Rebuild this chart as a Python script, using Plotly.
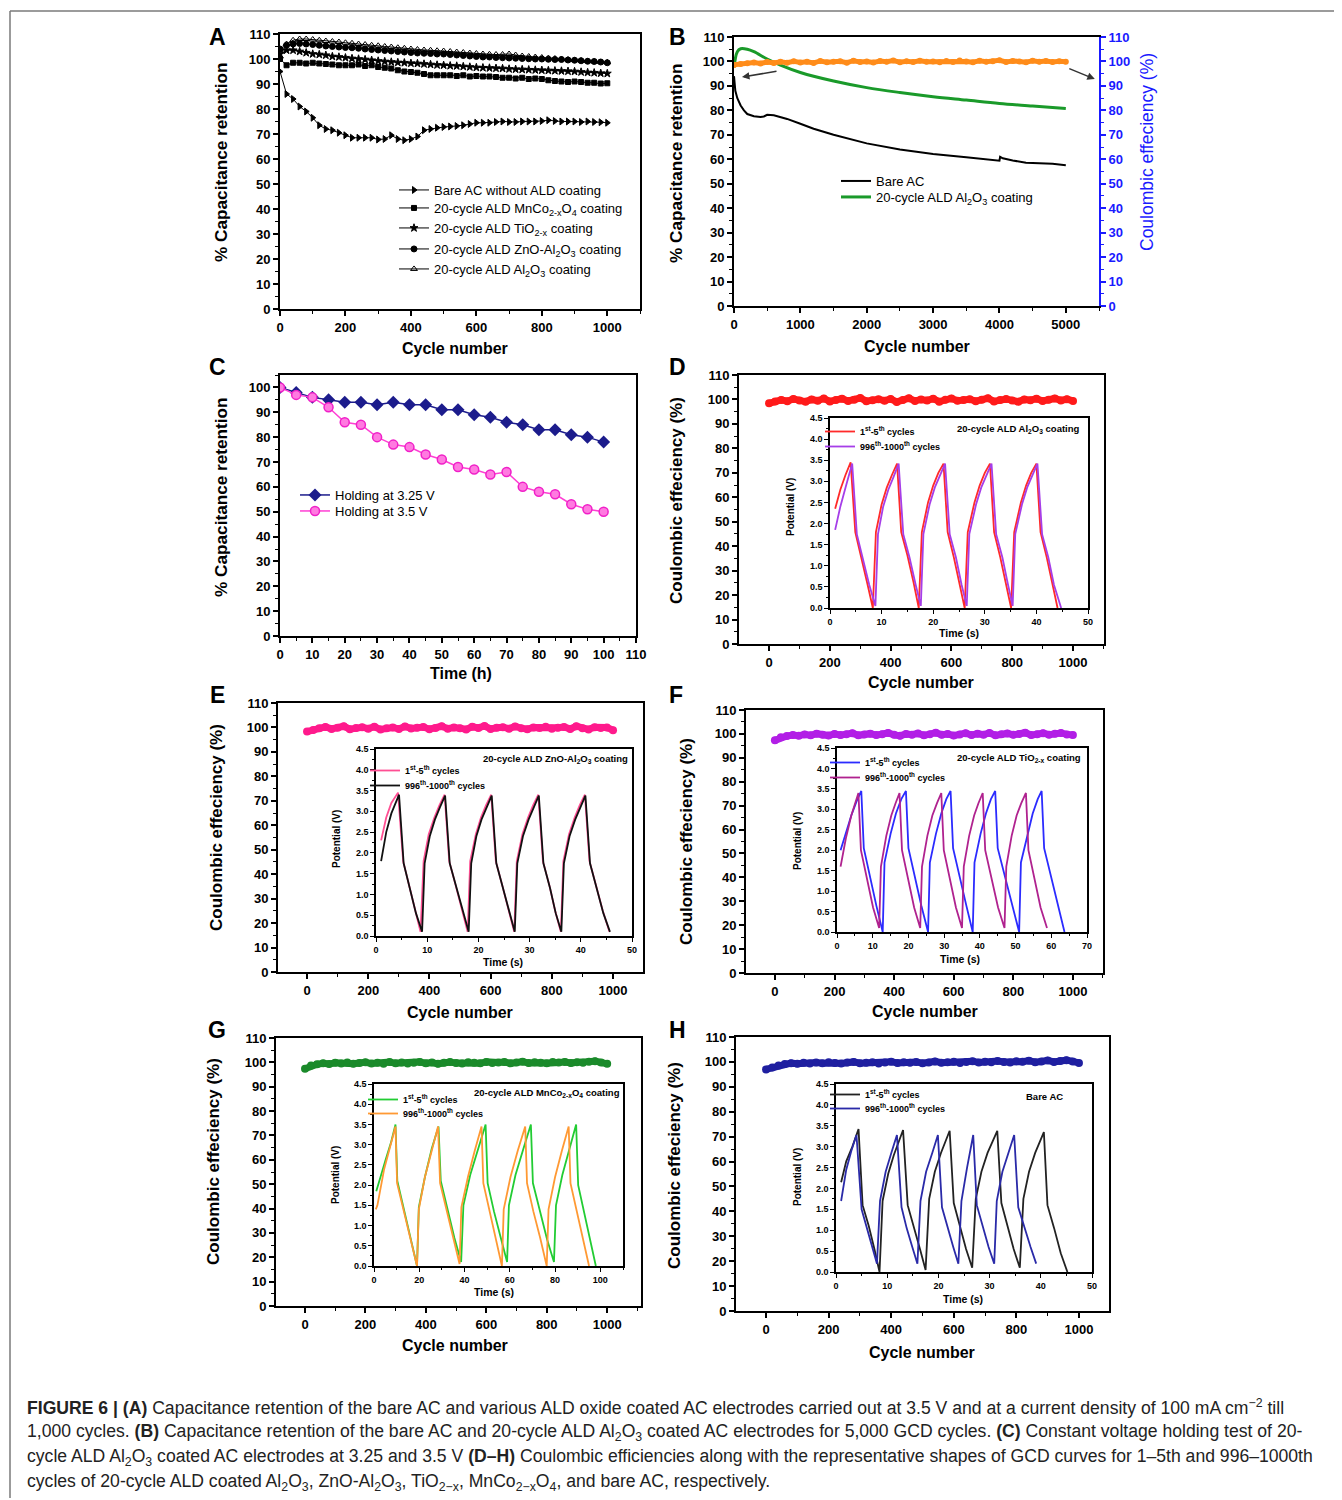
import plotly.graph_objects as go

# ---------------- DATA ----------------
# Panel A: capacitance retention (%), cycles 0..1000 step 20
cyc_A = list(range(0, 1001, 20))
a_bare = [95, 86, 84, 81, 79, 76.5, 73.5, 72, 71.5, 70.5, 69.5, 68.5, 68.5, 68.5, 68.5, 67.8, 68, 69.5, 68, 67.5,
          68, 69, 71.5, 72, 72.5, 72.8, 73, 73.2, 73.5, 74, 74.5, 74.5, 74.5, 74.8, 75, 74.8, 74.8, 75, 75, 75,
          75.2, 75.5, 75.2, 75, 75, 75, 74.8, 75, 74.8, 74.7, 74.5]
a_mnco = [100, 97.5, 98.5, 98.5, 98.2, 98.5, 98.2, 98, 97.8, 97.5, 97.5, 97.5, 97.8, 97.2, 97.5, 96.8, 96.5, 96.2, 95.5, 95,
          94.8, 94.5, 94, 93.5, 93.5, 93.5, 93.5, 93.2, 93.5, 93, 93.2, 93, 93, 92.8, 92.5, 92.5, 92.2, 92.5, 92, 92.2,
          92, 91.5, 91.2, 91, 90.8, 91, 90.8, 90.5, 90.5, 90.2, 90.3]
a_tio2 = [102, 103.5, 103.5, 103, 102.5, 102, 101.8, 101.5, 101, 100.8, 100.5, 100.2, 100, 99.8, 99.5, 99.2, 99, 98.8, 98.6, 98.5,
          98.3, 98.2, 98, 97.8, 97.6, 97.5, 97.3, 97.2, 97, 96.8, 96.6, 96.5, 96.4, 96.3, 96.2, 96, 95.9, 95.8, 95.7, 95.6,
          95.5, 95.4, 95.3, 95.2, 95.1, 95, 94.8, 94.6, 94.5, 94.3, 94.2]
a_zno = [104, 105.5, 106, 106.2, 106, 105.8, 105.5, 105.2, 105, 104.8, 104.6, 104.5, 104.3, 104, 103.8, 103.6, 103.4, 103.2, 103, 102.8,
         102.6, 102.4, 102.3, 102.2, 102, 102, 101.8, 101.6, 101.4, 101.2, 101, 100.8, 100.8, 100.6, 100.5, 100.4, 100.3, 100.2, 100.1, 100,
         100, 99.9, 99.8, 99.8, 99.6, 99.5, 99.3, 99.1, 99, 98.8, 98.5]
a_al2o3 = [101, 106, 107.5, 108, 108, 107.8, 107.5, 107.2, 107, 106.8, 106.5, 106.3, 106, 105.8, 105.5, 105.3, 105, 104.8, 104.5, 104.3,
           104, 103.8, 103.6, 103.5, 103.3, 103.2, 103, 102.8, 102.6, 102.4, 102.2, 102, 101.9, 101.8, 101.8, 102, 101.6, 101.2, 101, 100.8,
           100.6, 100.4, 100.2, 100, 99.8, 99.6, 99.4, 99.2, 99, 98.8, 98.7]

# Panel B
b_bare_x = [0, 20, 50, 100, 150, 200, 300, 400, 450, 500, 600, 800, 1000, 1200, 1500, 1800, 2000, 2500, 3000, 3500,
            4000, 4010, 4050, 4200, 4400, 4500, 4800, 5000]
b_bare_y = [94, 88, 85, 82, 80, 78.5, 77.6, 77.3, 77.5, 78.2, 78, 76.5, 74.5, 72.5, 70, 67.8, 66.5, 64, 62.2, 60.8,
            59.4, 61, 60.4, 59.5, 58.6, 58.5, 58.2, 57.6]
b_al_x = [0, 50, 100, 200, 300, 500, 700, 1000, 1500, 2000, 2500, 3000, 3500, 4000, 4500, 5000]
b_al_y = [97.5, 104, 105.2, 105, 104, 101, 98.5, 95.5, 92, 89.3, 87.3, 85.6, 84.2, 82.8, 81.8, 80.8]
cyc_B = list(range(0, 5001, 100))
b_ce = [98.6, 99.0, 99.3, 99.6, 99.2, 99.8, 99.4, 99.9, 99.5, 100.1, 99.6, 99.9, 99.4, 100.2, 99.7, 99.9, 100.1, 99.5, 100.3, 99.8,
        100.0, 99.6, 100.2, 99.9, 100.4, 99.7, 100.1, 99.8, 100.3, 99.9, 100.0, 99.7, 100.2, 99.8, 100.4, 100.0, 99.7, 100.3, 99.9, 100.1,
        100.5, 99.8, 100.2, 100.0, 99.7, 100.3, 99.9, 100.2, 99.8, 100.1, 99.9]

# Panel C
time_C = list(range(0, 101, 5))
c_325 = [100, 98, 96, 95, 94, 94, 93, 94, 93, 93, 91, 91, 89, 88, 86, 85, 83, 83, 81, 80, 78]
c_35 = [100, 97, 96, 92, 86, 85, 80, 77, 76, 73, 71, 68, 67, 65, 66, 60, 58, 57, 53, 51, 50]

# Panels D-H: Coulombic efficiency, cycles 0..1000 step 20
cyc_CE = list(range(0, 1001, 20))
ce_D = [98.4, 99.2, 99.8, 99.3, 100.2, 99.6, 99.1, 100.0, 99.5, 100.4, 99.2, 99.8, 100.3, 99.4, 99.9, 100.6, 99.3, 99.7, 100.1, 99.5,
        100.2, 99.0, 99.8, 100.5, 99.4, 100.0, 99.6, 100.3, 99.1, 99.9, 100.4, 99.5, 99.8, 100.1, 99.3, 99.9, 100.5, 99.2, 99.8, 100.2,
        99.6, 99.1, 100.0, 99.7, 100.3, 99.4, 99.9, 100.4, 99.6, 100.1, 99.4]
ce_E = [98.3, 99.0, 99.7, 100.2, 99.4, 99.9, 100.5, 99.3, 99.8, 100.1, 99.5, 100.3, 99.2, 99.7, 100.0, 99.4, 100.4, 99.6, 99.9, 100.2,
        99.3, 99.8, 100.5, 99.5, 100.0, 99.7, 99.2, 100.3, 99.8, 100.6, 99.4, 99.9, 100.1, 99.5, 100.4, 99.7, 99.3, 100.0, 99.8, 100.3,
        99.5, 99.9, 100.2, 99.4, 100.5, 99.7, 99.2, 100.1, 99.8, 100.0, 98.9]
ce_F = [97.3, 98.6, 99.1, 99.5, 99.2, 99.8, 99.4, 100.1, 99.6, 99.3, 100.0, 99.5, 99.9, 100.3, 99.4, 99.8, 100.1, 99.5, 99.9, 100.4,
        99.6, 99.2, 100.0, 99.7, 100.2, 99.4, 99.9, 100.5, 99.6, 100.0, 99.3, 99.8, 100.3, 99.5, 100.1, 99.7, 100.4, 99.4, 99.9, 100.2,
        99.6, 100.0, 100.5, 99.5, 99.9, 100.3, 99.7, 100.1, 100.4, 99.8, 99.5]
ce_G = [97.4, 98.7, 99.2, 99.6, 99.3, 99.8, 99.5, 99.9, 99.4, 99.7, 100.0, 99.5, 99.8, 99.4, 100.1, 99.6, 99.9, 99.5, 99.8, 100.2,
        99.6, 99.9, 99.4, 99.8, 100.1, 99.7, 99.5, 100.0, 99.8, 99.6, 100.2, 99.7, 99.9, 100.1, 99.6, 99.9, 100.3, 99.7, 100.0, 99.8,
        99.6, 100.1, 99.9, 100.2, 99.7, 100.0, 99.8, 100.3, 100.5, 99.9, 99.4]
ce_H = [97.0, 97.8, 98.6, 99.2, 99.5, 99.3, 99.7, 99.4, 99.8, 99.5, 99.9, 99.6, 99.4, 99.8, 100.0, 99.5, 99.7, 99.9, 99.4, 99.8,
        100.1, 99.6, 99.9, 99.7, 100.0, 99.5, 99.8, 100.2, 99.7, 99.9, 100.1, 99.6, 100.0, 100.3, 99.8, 100.1, 99.9, 100.4, 100.0, 99.8,
        100.3, 100.1, 100.5, 99.9, 100.2, 100.6, 100.0, 100.4, 100.7, 100.2, 99.6]

# GCD curves (time s, potential V)
d1_t = [1.0, 2.0, 3.0, 4.0, 4.9, 6.0, 7.2, 8.3, 8.9, 10.0, 11.0, 12.0, 13.0, 13.8, 15.0, 16.2, 17.2, 17.8, 19.0, 20.0, 21.0, 22.0,
        22.8, 24.0, 25.1, 26.1, 26.7, 28.0, 29.0, 30.0, 31.0, 31.8, 33.0, 34.1, 35.1, 35.7, 37.0, 38.0, 39.0, 40.0, 40.8, 42.0, 43.0, 44.1]
d1_v = [2.35, 2.8, 3.15, 3.45, 1.8, 1.25, 0.6, 0.0, 1.8, 2.45, 2.85, 3.15, 3.42, 1.8, 1.25, 0.6, 0.0, 1.8, 2.5, 2.9, 3.2, 3.42,
        1.8, 1.2, 0.55, 0.0, 1.8, 2.5, 2.9, 3.2, 3.42, 1.8, 1.2, 0.55, 0.0, 1.8, 2.5, 2.9, 3.2, 3.42, 1.8, 1.2, 0.6, 0.0]
d2_t = [1.0, 2.0, 3.0, 4.3, 5.2, 6.3, 7.6, 8.8, 9.3, 10.3, 11.3, 12.3, 13.3, 14.2, 15.4, 16.6, 17.6, 18.1, 19.3, 20.3, 21.3, 22.3,
        23.2, 24.4, 25.5, 26.5, 27.0, 28.3, 29.3, 30.3, 31.3, 32.2, 33.4, 34.5, 35.4, 35.9, 37.2, 38.2, 39.2, 40.2, 41.1, 42.3, 43.4, 44.8]
d2_v = [1.85, 2.4, 2.85, 3.42, 1.75, 1.2, 0.55, 0.05, 1.75, 2.4, 2.8, 3.1, 3.42, 1.75, 1.2, 0.55, 0.05, 1.75, 2.45, 2.85, 3.15, 3.42,
        1.75, 1.2, 0.55, 0.05, 1.75, 2.45, 2.85, 3.15, 3.42, 1.75, 1.2, 0.55, 0.05, 1.75, 2.45, 2.85, 3.15, 3.42, 1.75, 1.2, 0.55, 0.0]

e1_t = [1.0, 2.0, 3.0, 4.3, 5.3, 6.5, 7.6, 8.7, 9.3, 10.3, 11.4, 12.4, 13.4, 14.3, 15.6, 16.8, 17.9, 18.4, 19.5, 20.5, 21.5, 22.5,
        23.4, 24.7, 25.9, 27.0, 27.5, 28.6, 29.7, 30.7, 31.7, 32.6, 33.9, 35.0, 36.1, 36.6, 37.7, 38.8, 39.8, 40.8, 41.7, 43.0, 44.3, 45.6]
e1_v = [2.3, 2.85, 3.2, 3.45, 1.8, 1.2, 0.6, 0.1, 1.8, 2.45, 2.85, 3.15, 3.4, 1.8, 1.2, 0.6, 0.1, 1.8, 2.45, 2.85, 3.15, 3.4,
        1.8, 1.2, 0.6, 0.1, 1.8, 2.45, 2.85, 3.15, 3.4, 1.8, 1.2, 0.6, 0.1, 1.8, 2.45, 2.85, 3.15, 3.4, 1.8, 1.2, 0.6, 0.1]
e2_t = [1.0, 2.0, 3.0, 4.5, 5.4, 6.6, 7.8, 9.0, 9.5, 10.5, 11.5, 12.5, 13.5, 14.4, 15.7, 17.0, 18.1, 18.6, 19.6, 20.6, 21.6, 22.6,
        23.5, 24.8, 26.0, 27.1, 27.6, 28.7, 29.8, 30.8, 31.8, 32.7, 34.0, 35.1, 36.2, 36.7, 37.8, 38.9, 39.9, 40.9, 41.8, 43.1, 44.4, 45.7]
e2_v = [1.8, 2.5, 2.95, 3.4, 1.75, 1.15, 0.55, 0.1, 1.75, 2.4, 2.8, 3.1, 3.38, 1.75, 1.15, 0.55, 0.1, 1.75, 2.4, 2.8, 3.1, 3.38,
        1.75, 1.15, 0.55, 0.1, 1.75, 2.4, 2.8, 3.1, 3.38, 1.75, 1.15, 0.55, 0.1, 1.75, 2.4, 2.8, 3.1, 3.38, 1.75, 1.15, 0.55, 0.1]

f1_t = [1.0, 2.5, 4.0, 5.5, 6.8, 7.5, 9.2, 11.0, 12.8, 13.3, 15.0, 16.5, 18.0, 19.3, 20.0, 21.8, 23.6, 25.5, 26.0, 27.7, 29.2, 30.6,
        31.8, 32.5, 34.3, 36.2, 38.0, 38.5, 40.2, 41.7, 43.1, 44.3, 45.0, 47.0, 49.0, 51.0, 51.5, 53.3, 54.8, 56.2, 57.3, 58.0, 60.0,
        62.0, 63.7]
f1_v = [2.0, 2.45, 2.85, 3.2, 3.45, 2.05, 1.35, 0.65, 0.0, 1.7, 2.4, 2.9, 3.25, 3.45, 2.05, 1.35, 0.65, 0.0, 1.7, 2.4, 2.9, 3.25,
        3.45, 2.05, 1.35, 0.65, 0.0, 1.7, 2.4, 2.9, 3.25, 3.45, 2.05, 1.35, 0.65, 0.0, 1.7, 2.4, 2.9, 3.25, 3.45, 2.05, 1.35,
        0.65, 0.0]
f2_t = [1.0, 2.5, 4.0, 5.0, 6.0, 6.7, 8.4, 10.1, 11.8, 12.3, 13.8, 15.2, 16.4, 17.5, 18.2, 19.9, 21.6, 23.3, 23.8, 25.3, 26.7, 28.0,
        29.2, 29.9, 31.6, 33.3, 35.0, 35.5, 37.0, 38.4, 39.6, 40.8, 41.5, 43.3, 45.1, 46.9, 47.4, 48.9, 50.3, 51.6, 52.9, 53.6, 55.3,
        57.0, 58.8]
f2_v = [1.6, 2.3, 2.85, 3.15, 3.4, 2.0, 1.3, 0.6, 0.1, 1.6, 2.35, 2.85, 3.15, 3.4, 2.0, 1.3, 0.6, 0.1, 1.6, 2.35, 2.85, 3.15,
        3.4, 2.0, 1.3, 0.6, 0.1, 1.6, 2.35, 2.85, 3.15, 3.4, 2.0, 1.3, 0.6, 0.1, 1.6, 2.35, 2.85, 3.15, 3.4, 2.0, 1.3,
        0.6, 0.1]

g1_t = [1.0, 2.0, 5.0, 7.5, 9.5, 10.3, 13.2, 16.1, 19.0, 19.8, 22.5, 25.5, 28.5, 29.5, 32.5, 35.5, 38.5, 39.5, 42.5, 46.0, 49.3,
        50.2, 53.0, 56.0, 58.8, 59.6, 62.5, 66.0, 69.3, 70.2, 73.2, 76.5, 79.5, 80.4, 83.2, 86.3, 89.3, 90.2, 93.0, 95.5, 98.0]
g1_v = [1.85, 2.05, 2.6, 3.05, 3.5, 2.1, 1.4, 0.7, 0.0, 1.45, 2.2, 2.9, 3.45, 2.1, 1.4, 0.7, 0.1, 1.5, 2.25, 2.9, 3.5,
        2.05, 1.35, 0.7, 0.1, 1.5, 2.25, 2.9, 3.5, 2.05, 1.35, 0.65, 0.1, 1.5, 2.25, 2.9, 3.5, 2.0, 1.3, 0.65, 0.0]
g2_t = [0.8, 1.5, 4.5, 7.0, 9.5, 10.2, 13.1, 16.1, 19.0, 19.8, 22.5, 25.5, 28.3, 29.2, 32.2, 35.0, 37.8, 38.6, 41.5, 44.5, 47.5,
        48.3, 51.0, 53.8, 56.5, 57.3, 60.3, 63.5, 66.8, 67.6, 70.4, 73.4, 76.3, 77.1, 80.0, 83.0, 86.0, 86.8, 89.5, 92.3, 95.0]
g2_v = [1.4, 1.5, 2.4, 2.95, 3.45, 2.05, 1.35, 0.7, 0.0, 1.4, 2.2, 2.85, 3.45, 2.05, 1.35, 0.7, 0.05, 1.45, 2.2, 2.85, 3.45,
        2.05, 1.35, 0.7, 0.0, 1.4, 2.2, 2.85, 3.45, 2.05, 1.35, 0.7, 0.0, 1.4, 2.2, 2.85, 3.45, 2.05, 1.35, 0.7, 0.0]

h1_t = [1.0, 2.0, 3.2, 4.4, 5.2, 6.4, 7.5, 8.5, 9.1, 10.2, 11.3, 13.1, 14.0, 15.2, 16.4, 17.5, 18.2, 19.3, 20.5, 22.2, 23.0, 24.2,
        25.4, 26.6, 27.3, 28.4, 29.6, 31.5, 32.3, 33.5, 34.7, 35.9, 36.6, 37.7, 38.9, 40.6, 41.3, 42.6, 43.9, 45.2]
h1_v = [2.15, 2.65, 3.0, 3.42, 1.6, 1.1, 0.55, 0.0, 1.7, 2.35, 2.8, 3.4, 1.6, 1.1, 0.55, 0.05, 1.75, 2.4, 2.85, 3.38, 1.65, 1.1,
        0.55, 0.1, 1.75, 2.4, 2.85, 3.38, 1.65, 1.1, 0.55, 0.1, 1.75, 2.4, 2.85, 3.35, 1.6, 1.05, 0.45, 0.0]
h2_t = [1.0, 2.0, 3.0, 4.0, 5.0, 6.0, 7.0, 8.0, 8.6, 9.7, 10.8, 11.9, 12.8, 13.8, 14.9, 15.9, 16.5, 17.6, 18.8, 19.9, 20.7, 21.8,
        22.9, 23.9, 24.5, 25.6, 26.8, 27.5, 28.6, 29.8, 30.9, 31.4, 32.5, 33.7, 34.8, 35.6, 36.8, 38.0, 39.1]
h2_v = [1.7, 2.45, 2.9, 3.28, 1.5, 1.05, 0.6, 0.2, 1.7, 2.4, 2.85, 3.28, 1.55, 1.05, 0.6, 0.2, 1.7, 2.4, 2.85, 3.28, 1.55, 1.05,
        0.6, 0.2, 1.7, 2.5, 3.28, 1.6, 1.1, 0.6, 0.2, 1.7, 2.4, 2.85, 3.28, 1.55, 1.05, 0.6, 0.2]

# ---------------- LAYOUT HELPERS ----------------
W, H = 1326, 1490
OX, OY = 8, 8
FONT = "Liberation Sans, Arial, sans-serif"


def px(x):
    return (x - OX) / W


def py(y):
    return 1 - (y - OY) / H


fig = go.Figure()
layout = dict()


def add_axes(n, box, xr, yr, xd, xm, yd, ym, fs=13, lw=2, ylab_fmt=None, tl=5):
    x0, x1, ytop, ybot = box
    xk = 'xaxis' if n == 1 else f'xaxis{n}'
    yk = 'yaxis' if n == 1 else f'yaxis{n}'
    ya = 'y' if n == 1 else f'y{n}'
    xa = 'x' if n == 1 else f'x{n}'
    common = dict(showline=True, linecolor='black', linewidth=lw, mirror=True, ticks='outside',
                  ticklen=tl, tickwidth=lw * 0.75, tickcolor='black', showgrid=False, zeroline=False,
                  tickfont=dict(family=FONT, size=fs, color='black', weight='bold'))
    layout[xk] = dict(common, domain=[px(x0), px(x1)], anchor=ya, range=xr, tick0=0, dtick=xd,
                      minor=dict(ticks='outside', ticklen=tl * 0.6, dtick=xm, tick0=0, tickcolor='black', tickwidth=1))
    ydict = dict(common, domain=[py(ybot), py(ytop)], anchor=xa, range=yr, tick0=0, dtick=yd,
                 minor=dict(ticks='outside', ticklen=tl * 0.6, dtick=ym, tick0=0, tickcolor='black', tickwidth=1))
    if ylab_fmt:
        ydict['tickformat'] = ylab_fmt
    layout[yk] = ydict


# main panels
add_axes(1, (280, 640, 34, 309), [0, 1100], [0, 110], 200, 100, 10, 5)
add_axes(2, (734, 1099, 37, 306), [0, 5500], [0, 110], 1000, 500, 10, 5)
layout['yaxis2']['mirror'] = False
layout['yaxis3'] = dict(domain=layout['yaxis2']['domain'], anchor='x2', overlaying='y2', side='right', range=[0, 110],
                        tick0=0, dtick=10, showline=True, linecolor='#1a1aff', linewidth=2, ticks='outside', ticklen=5,
                        tickwidth=1.5, tickcolor='#1a1aff', showgrid=False, zeroline=False,
                        tickfont=dict(family=FONT, size=13, color='#1a1aff', weight='bold'),
                        minor=dict(ticks='outside', ticklen=3, dtick=5, tick0=0, tickcolor='#1a1aff', tickwidth=1))
add_axes(4, (280, 636, 375, 636), [0, 110], [0, 105], 10, 5, 10, 5)
add_axes(5, (739, 1104, 375, 644), [-99, 1102], [0, 110], 200, 100, 10, 5)
add_axes(6, (830, 1088, 418, 608), [0, 50], [0, 4.5], 10, 5, 0.5, 0.25, fs=9, lw=1.5, ylab_fmt='.1f', tl=4)
add_axes(7, (278, 643, 703, 972), [-95, 1098], [0, 110], 200, 100, 10, 5)
add_axes(8, (376, 632, 749, 936), [0, 50], [0, 4.5], 10, 5, 0.5, 0.25, fs=9, lw=1.5, ylab_fmt='.1f', tl=4)
add_axes(9, (746, 1103, 710, 973), [-97, 1101], [0, 110], 200, 100, 10, 5)
add_axes(10, (837, 1087, 748, 932), [0, 70], [0, 4.5], 10, 5, 0.5, 0.25, fs=9, lw=1.5, ylab_fmt='.1f', tl=4)
add_axes(11, (276, 641, 1038, 1306), [-96, 1112], [0, 110], 200, 100, 10, 5)
add_axes(12, (374, 623, 1084, 1266), [0, 110], [0, 4.5], 20, 10, 0.5, 0.25, fs=9, lw=1.5, ylab_fmt='.1f', tl=4)
add_axes(13, (736, 1109, 1037, 1311), [-96, 1096], [0, 110], 200, 100, 10, 5)
add_axes(14, (836, 1092, 1084, 1272), [0, 50], [0, 4.5], 10, 5, 0.5, 0.25, fs=9, lw=1.5, ylab_fmt='.1f', tl=4)

# ---------------- LEGENDS (one per entry, placed by text start / row centre) ----------------
leg_count = [0]


def new_legend(text_x, center_y, fs, bold=False):
    leg_count[0] += 1
    key = 'legend' if leg_count[0] == 1 else f'legend{leg_count[0]}'
    off = 15 if fs >= 12 else 14
    layout[key] = dict(x=px(text_x - 40), y=py(center_y - off), xanchor='left', yanchor='top',
                       bgcolor='rgba(0,0,0,0)', borderwidth=0, itemwidth=30,
                       font=dict(family=FONT, size=fs, color='black', weight='bold' if bold else 'normal'))
    return key


# ---------------- TRACES ----------------
blk = 'black'
# Panel A
a_rows = [190, 208, 228, 249, 269]
for (name, ys, sym, size), yc in zip([
    ("Bare AC without ALD coating", a_bare, 'triangle-right', 6),
    ("20-cycle ALD MnCo<sub>2-x</sub>O<sub>4</sub> coating", a_mnco, 'square', 5),
    ("20-cycle ALD TiO<sub>2-x</sub> coating", a_tio2, 'star', 6),
    ("20-cycle ALD ZnO-Al<sub>2</sub>O<sub>3</sub> coating", a_zno, 'circle', 6),
    ("20-cycle ALD Al<sub>2</sub>O<sub>3</sub> coating", a_al2o3, 'triangle-up-open', 6),
], a_rows):
    lg = new_legend(434, yc, 13)
    fig.add_trace(go.Scatter(x=cyc_A, y=ys, mode='lines+markers', name=name, legend=lg,
                             line=dict(color=blk, width=1),
                             marker=dict(symbol=sym, size=size, color=blk, line=dict(color=blk, width=1)),
                             xaxis='x', yaxis='y'))

# Panel B
fig.add_trace(go.Scatter(x=cyc_B, y=b_ce, mode='lines+markers', showlegend=False,
                         line=dict(color='#ff8c1a', width=5), marker=dict(color='#ff8c1a', size=6),
                         xaxis='x2', yaxis='y3'))
lg = new_legend(876, 181, 13)
fig.add_trace(go.Scatter(x=b_bare_x, y=b_bare_y, mode='lines', name='Bare AC', legend=lg,
                         line=dict(color='black', width=2), xaxis='x2', yaxis='y2'))
lg = new_legend(876, 197, 13)
fig.add_trace(go.Scatter(x=b_al_x, y=b_al_y, mode='lines', name='20-cycle ALD Al<sub>2</sub>O<sub>3</sub> coating',
                         legend=lg, line=dict(color='#1a9a2a', width=3, shape='spline'), xaxis='x2', yaxis='y2'))

# Panel C
lg = new_legend(335, 495, 13)
fig.add_trace(go.Scatter(x=time_C, y=c_325, mode='lines+markers', name='Holding at 3.25 V', legend=lg,
                         line=dict(color='#1c1c8c', width=1.5),
                         marker=dict(symbol='diamond', size=10, color='#1c1c8c'), xaxis='x4', yaxis='y4'))
lg = new_legend(335, 511, 13)
fig.add_trace(go.Scatter(x=time_C, y=c_35, mode='lines+markers', name='Holding at 3.5 V', legend=lg,
                         line=dict(color='#ff3fd4', width=1.5),
                         marker=dict(symbol='circle', size=9, color='#ff7ae0', line=dict(color='#f020c8', width=1.5)),
                         xaxis='x4', yaxis='y4'))

# Panels D-H: CE bands
for ys, col, xa, ya in [(ce_D, '#ff1a1a', 'x5', 'y5'), (ce_E, '#ff1a8c', 'x7', 'y7'), (ce_F, '#b21ee6', 'x9', 'y9'),
                        (ce_G, '#1a8a2a', 'x11', 'y11'), (ce_H, '#1f1fa0', 'x13', 'y13')]:
    fig.add_trace(go.Scatter(x=cyc_CE, y=ys, mode='lines+markers', showlegend=False,
                             line=dict(color=col, width=7), marker=dict(color=col, size=8),
                             xaxis=xa, yaxis=ya))

L1 = "1<sup>st</sup>-5<sup>th</sup> cycles"
L2 = "996<sup>th</sup>-1000<sup>th</sup> cycles"
for (t1, v1, c1, t2, v2, c2, xa, ya, tx, r1, r2) in [
    (d1_t, d1_v, '#ff2a2a', d2_t, d2_v, '#a63ee8', 'x6', 'y6', 860, 431, 446),
    (e1_t, e1_v, '#ff4f93', e2_t, e2_v, '#111111', 'x8', 'y8', 405, 770, 785),
    (f1_t, f1_v, '#2b2bff', f2_t, f2_v, '#b0228f', 'x10', 'y10', 865, 762, 777),
    (g1_t, g1_v, '#22cc33', g2_t, g2_v, '#ff9933', 'x12', 'y12', 403, 1099, 1113),
    (h1_t, h1_v, '#222222', h2_t, h2_v, '#2a2aa8', 'x14', 'y14', 865, 1094, 1108),
]:
    lg = new_legend(tx, r1, 9, True)
    fig.add_trace(go.Scatter(x=t1, y=v1, mode='lines', name=L1, legend=lg, line=dict(color=c1, width=1.8),
                             xaxis=xa, yaxis=ya))
    lg = new_legend(tx, r2, 9, True)
    fig.add_trace(go.Scatter(x=t2, y=v2, mode='lines', name=L2, legend=lg, line=dict(color=c2, width=1.8),
                             xaxis=xa, yaxis=ya))

# ---------------- ANNOTATIONS ----------------
ann = []


def txt(x, y, s, size, bold=True, angle=0, color='black', xanchor='center', yanchor='middle'):
    ann.append(dict(x=px(x), y=py(y), xref='paper', yref='paper', text=s, showarrow=False, textangle=angle,
                    xanchor=xanchor, yanchor=yanchor,
                    font=dict(family=FONT, size=size, color=color, weight='bold' if bold else 'normal')))


# panel letters
for s, x, y in [('A', 217, 37), ('B', 677, 37), ('C', 217, 367), ('D', 677, 367),
                ('E', 217, 695), ('F', 676, 695), ('G', 217, 1030), ('H', 677, 1030)]:
    txt(x, y, s, 23)

# axis titles
txt(455, 348, 'Cycle number', 16)
txt(221, 162, '% Capacitance retention', 17.2, angle=-90)
txt(917, 346, 'Cycle number', 16)
txt(676, 163, '% Capacitance retention', 17.2, angle=-90)
txt(1147, 152, 'Coulombic effeciency (%)', 17.5, bold=False, angle=-90, color='#1a1aff')
txt(461, 674, 'Time (h)', 16)
txt(221, 497, '% Capacitance retention', 17.2, angle=-90)
for (cx, cy, yx, yy) in [(921, 683, 677, 501), (460, 1012, 216, 828), (925, 1011, 686, 842),
                         (455, 1345, 213, 1162), (922, 1352, 674, 1166)]:
    txt(cx, cy, 'Cycle number', 16)
    txt(yx, yy, 'Coulombic effeciency (%)', 17, angle=-90)

# inset titles
for (tx, ty, vx, vy) in [(959, 633, 790, 507), (503, 962, 337, 839), (960, 959, 797, 841),
                         (494, 1292, 335, 1175), (963, 1299, 797, 1177)]:
    txt(tx, ty, 'Time (s)', 10.5)
    txt(vx, vy, 'Potential (V)', 10, angle=-90)

txt(1082, 429, '20-cycle ALD Al<sub>2</sub>O<sub>3</sub> coating', 9.5, xanchor='right')
txt(630, 759, '20-cycle ALD ZnO-Al<sub>2</sub>O<sub>3</sub> coating', 9.5, xanchor='right')
txt(1083, 758, '20-cycle ALD TiO<sub>2-x</sub> coating', 9.5, xanchor='right')
txt(622, 1093, '20-cycle ALD MnCo<sub>2-x</sub>O<sub>4</sub> coating', 9.5, xanchor='right')
txt(1065, 1096, 'Bare AC', 9.5, xanchor='right')

# arrows in B
ann.append(dict(x=120, y=93.6, ax=663, ay=96.1, xref='x2', yref='y2', axref='x2', ayref='y2', text='',
                showarrow=True, arrowhead=2, arrowsize=1, arrowwidth=1.5, arrowcolor='#333'))
ann.append(dict(x=5437, y=92.8, ax=5030, ay=97.3, xref='x2', yref='y2', axref='x2', ayref='y2', text='',
                showarrow=True, arrowhead=2, arrowsize=1, arrowwidth=1.5, arrowcolor='#333'))

# caption
cap = [
    "<b>FIGURE 6 | (A)</b> Capacitance retention of the bare AC and various ALD oxide coated AC electrodes carried out at 3.5 V and at a current density of 100 mA cm<sup>−2</sup> till",
    "1,000 cycles. <b>(B)</b> Capacitance retention of the bare AC and 20-cycle ALD Al<sub>2</sub>O<sub>3</sub> coated AC electrodes for 5,000 GCD cycles. <b>(C)</b> Constant voltage holding test of 20-",
    "cycle ALD Al<sub>2</sub>O<sub>3</sub> coated AC electrodes at 3.25 and 3.5 V <b>(D–H)</b> Coulombic efficiencies along with the representative shapes of GCD curves for 1–5th and 996–1000th",
    "cycles of 20-cycle ALD coated Al<sub>2</sub>O<sub>3</sub>, ZnO-Al<sub>2</sub>O<sub>3</sub>, TiO<sub>2−x</sub>, MnCo<sub>2−x</sub>O<sub>4</sub>, and bare AC, respectively.",
]
for i, line in enumerate(cap):
    txt(25, 1407 + 25 * i, line, 17.6, bold=False, color='#222', xanchor='left')

# frame lines
shapes = [
    dict(type='line', xref='paper', yref='paper', x0=px(10), x1=1, y0=py(11), y1=py(11),
         line=dict(color='#7a7a7a', width=1.5)),
    dict(type='line', xref='paper', yref='paper', x0=px(10), x1=px(10), y0=py(11), y1=0,
         line=dict(color='#7a7a7a', width=1.5)),
]

fig.update_layout(**layout)
fig.update_layout(width=W, height=H, margin=dict(l=0, r=0, t=0, b=0), template='none',
                  paper_bgcolor='white', plot_bgcolor='white', annotations=ann, shapes=shapes,
                  font=dict(family=FONT, color='black'))

fig.write_html("out.html")
